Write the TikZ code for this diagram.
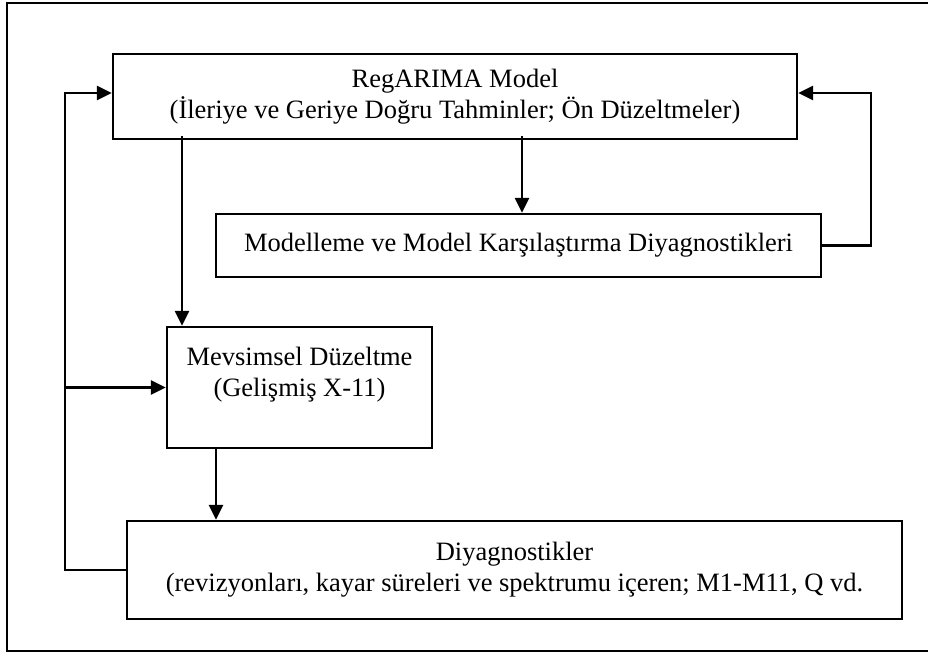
\documentclass[tikz,border=0pt]{standalone}
\usepackage{fontspec}
\setmainfont{Liberation Serif}
\usetikzlibrary{arrows.meta}
\begin{document}
\begin{tikzpicture}[x=1pt,y=-1pt,
  every node/.style={font=\fontsize{26.5}{31}\selectfont},
  box/.style={draw,line width=2.4pt,rectangle,align=center,inner sep=0pt,anchor=center},
  conn/.style={line width=2.6pt},
  arr/.style={conn,-{Triangle[length=15pt,width=14pt]}}]
\useasboundingbox (0,0) rectangle (928,655);
\draw[line width=2.4pt] (960,3) -- (7,3) -- (7,651) -- (960,651);
\node[box,minimum width=684pt,minimum height=85pt] (reg) at (455,96.5)
  {RegARIMA Model\\(İleriye ve Geriye Doğru Tahminler; Ön Düzeltmeler)};
\node[box,minimum width=605pt,minimum height=63pt] (mod) at (518.5,245.5)
  {Modelleme ve Model Karşılaştırma Diyagnostikleri};
\node[box,minimum width=265pt,minimum height=121pt] (mev) at (299.5,387.5)
  {Mevsimsel Düzeltme\\(Gelişmiş X-11)\\\mbox{}};
\node[box,minimum width=775pt,minimum height=98pt] (diy) at (514.5,570)
  {Diyagnostikler\\(revizyonları, kayar süreleri ve spektrumu içeren; M1-M11, Q vd.};
\coordinate (lx) at (65,0);
\coordinate (rx) at (871,0);
\coordinate (ry) at (0,93);
\coordinate (mx) at (182,0);
\coordinate (dx) at (522,0);
\coordinate (ex) at (216,0);
\draw[arr] (diy.west) -- (diy.west -| lx) -- (lx |- ry) -- (reg.west |- ry);
\draw[arr] (lx |- mev.west) -- (mev.west);
\draw[arr] ([yshift=4pt]reg.south -| mx) -- (mev.north -| mx);
\draw[arr] ([yshift=4pt]reg.south -| dx) -- (mod.north -| dx);
\draw[arr] (mod.east) -- (mod.east -| rx) -- (rx |- ry) -- (reg.east |- ry);
\draw[arr] (mev.south -| ex) -- (diy.north -| ex);
\end{tikzpicture}
\end{document}
